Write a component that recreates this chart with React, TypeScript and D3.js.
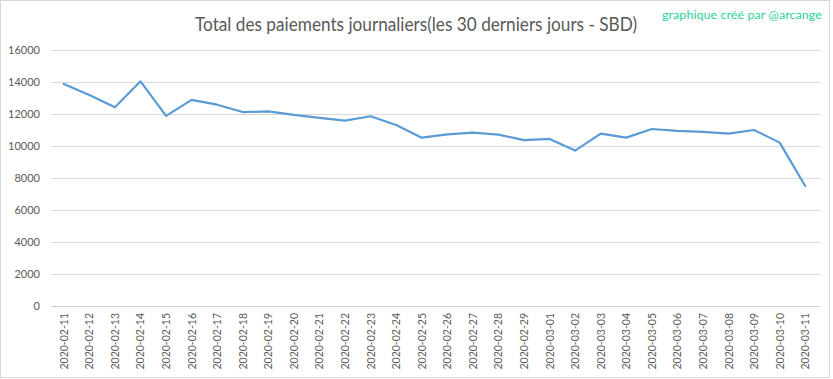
import React from "react";
import * as d3 from "d3";

const dates = [
  "2020-02-11","2020-02-12","2020-02-13","2020-02-14","2020-02-15","2020-02-16","2020-02-17",
  "2020-02-18","2020-02-19","2020-02-20","2020-02-21","2020-02-22","2020-02-23","2020-02-24",
  "2020-02-25","2020-02-26","2020-02-27","2020-02-28","2020-02-29","2020-03-01","2020-03-02",
  "2020-03-03","2020-03-04","2020-03-05","2020-03-06","2020-03-07","2020-03-08","2020-03-09",
  "2020-03-10","2020-03-11",
];
const values = [
  13900, 13200, 12440, 14060, 11900, 12900, 12600,
  12140, 12180, 11960, 11780, 11600, 11880, 11330,
  10540, 10750, 10850, 10730, 10390, 10460, 9730,
  10790, 10540, 11080, 10960, 10900, 10790, 11020,
  10230, 7520,
];
const yTicks = [0, 2000, 4000, 6000, 8000, 10000, 12000, 14000, 16000];
const title = "Total des paiements journaliers(les 30 derniers jours - SBD)";
const credit = "graphique créé par @arcange";

const W = 833, H = 379;
const FONT = "Lato, 'Open Sans', 'Noto Sans', sans-serif";

export default function App() {
  const x = d3.scaleBand<string>().domain(dates).range([51, 818]);
  const y = d3.scaleLinear().domain([0, 16000]).range([306.3, 50.3]);
  const line = d3.line<number>()
    .x((_, i) => (x(dates[i]) as number) + x.bandwidth() / 2)
    .y((d) => y(d));

  return (
    <svg width={W} height={H} style={{ position: "absolute", left: 0, top: 0, background: "#fff" }}>
      <rect x={0.5} y={0.5} width={829} height={377} fill="#fff" stroke="#d9d9d9" />
      <text x={416} y={31} textAnchor="middle" fontFamily={FONT} fontSize={18.5} fill="#595959"
        textLength={442} lengthAdjust="spacingAndGlyphs">{title}</text>
      <text x={742} y={19} textAnchor="middle" fontFamily={FONT} fontSize={11.5} fill="#2fcf9f"
        textLength={160} lengthAdjust="spacingAndGlyphs">{credit}</text>
      {yTicks.map((t) => (
        <g key={t}>
          <line x1={51} x2={820} y1={Math.round(y(t)) + 0.5} y2={Math.round(y(t)) + 0.5}
            stroke={t === 0 ? "#d0d0d0" : "#d9d9d9"} strokeWidth={1} />
          <text x={40} y={y(t) + 4} textAnchor="end" fontFamily={FONT} fontSize={11} fill="#595959">{t}</text>
        </g>
      ))}
      {dates.map((d) => {
        const cx = (x(d) as number) + x.bandwidth() / 2;
        return (
          <text key={d} transform={`translate(${cx + 4},313) rotate(-90)`} textAnchor="end"
            fontFamily={FONT} fontSize={10.5} fill="#595959">{d}</text>
        );
      })}
      <path d={line(values) || ""} fill="none" stroke="#5b9bd5" strokeWidth={2.2}
        strokeLinejoin="round" strokeLinecap="round" />
    </svg>
  );
}
